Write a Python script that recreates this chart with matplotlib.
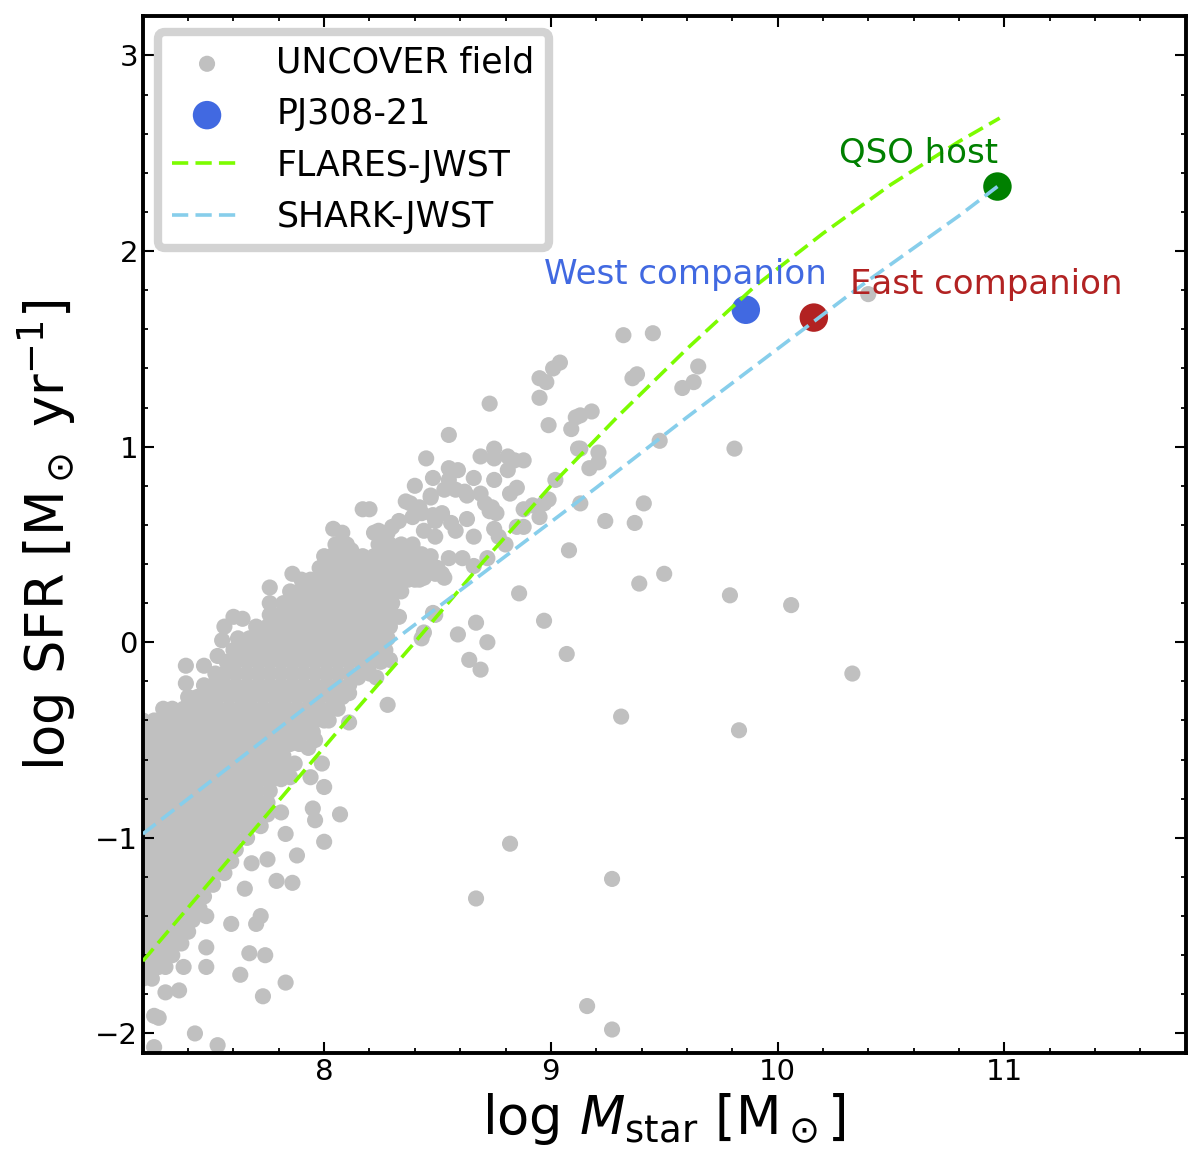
import numpy as np
import matplotlib.pyplot as plt
from matplotlib.ticker import MultipleLocator

# dense part of the UNCOVER cloud, one row of masses per SFR level
core_sfr = [-1.72, -1.66, -1.60, -1.54, -1.48, -1.42, -1.36, -1.30, -1.24, -1.18,
            -1.12, -1.06, -1.00, -0.94, -0.88, -0.82, -0.76, -0.70, -0.64, -0.58,
            -0.52, -0.46, -0.40, -0.34, -0.28, -0.22, -0.16, -0.10, -0.04, 0.02,
            0.08, 0.14, 0.20, 0.26, 0.32, 0.38, 0.44, 0.50, 0.56]
core_mass = [
    [7.20, 7.24],
    [7.22, 7.27, 7.30],
    [7.20, 7.25, 7.30, 7.33],
    [7.22, 7.27, 7.32, 7.37],
    [7.20, 7.25, 7.30, 7.35, 7.40],
    [7.22, 7.27, 7.32, 7.37, 7.42],
    [7.20, 7.25, 7.30, 7.35, 7.40, 7.45],
    [7.22, 7.27, 7.32, 7.37, 7.42, 7.47],
    [7.20, 7.25, 7.30, 7.35, 7.40, 7.45, 7.51],
    [7.22, 7.27, 7.32, 7.37, 7.42, 7.47, 7.52, 7.56],
    [7.20, 7.25, 7.30, 7.35, 7.40, 7.45, 7.50, 7.55, 7.59],
    [7.22, 7.27, 7.32, 7.37, 7.42, 7.47, 7.52, 7.57, 7.61],
    [7.20, 7.25, 7.30, 7.35, 7.40, 7.45, 7.50, 7.55, 7.60, 7.66],
    [7.22, 7.27, 7.32, 7.37, 7.42, 7.47, 7.52, 7.57, 7.62, 7.67, 7.72],
    [7.20, 7.25, 7.30, 7.35, 7.40, 7.45, 7.50, 7.55, 7.60, 7.65, 7.70, 7.75],
    [7.22, 7.27, 7.32, 7.37, 7.42, 7.47, 7.52, 7.57, 7.62, 7.67, 7.72, 7.75],
    [7.20, 7.25, 7.30, 7.35, 7.40, 7.45, 7.50, 7.55, 7.60, 7.65, 7.70, 7.76],
    [7.22, 7.27, 7.32, 7.37, 7.42, 7.47, 7.52, 7.57, 7.62, 7.67, 7.72, 7.77, 7.81],
    [7.20, 7.25, 7.30, 7.35, 7.40, 7.45, 7.50, 7.55, 7.60, 7.65, 7.70, 7.75, 7.80, 7.84],
    [7.22, 7.27, 7.32, 7.37, 7.42, 7.47, 7.52, 7.57, 7.62, 7.67, 7.72, 7.77, 7.82],
    [7.20, 7.25, 7.30, 7.35, 7.40, 7.45, 7.50, 7.55, 7.60, 7.65, 7.70, 7.75, 7.80, 7.85, 7.89],
    [7.22, 7.27, 7.32, 7.37, 7.42, 7.47, 7.52, 7.57, 7.62, 7.67, 7.72, 7.77, 7.82, 7.87, 7.92, 7.95],
    [7.20, 7.25, 7.30, 7.35, 7.40, 7.45, 7.50, 7.55, 7.60, 7.65, 7.70, 7.75, 7.80, 7.85, 7.90, 7.95, 8.00, 8.02],
    [7.29, 7.33, 7.38, 7.43, 7.48, 7.53, 7.58, 7.63, 7.68, 7.73, 7.78, 7.83, 7.88, 7.93, 7.98, 8.03, 8.06],
    [7.40, 7.44, 7.48, 7.53, 7.58, 7.63, 7.68, 7.73, 7.78, 7.83, 7.88, 7.93, 7.98, 8.03, 8.08],
    [7.47, 7.51, 7.56, 7.61, 7.66, 7.71, 7.76, 7.81, 7.86, 7.91, 7.96, 8.01, 8.06, 8.11],
    [7.52, 7.56, 7.61, 7.66, 7.71, 7.76, 7.81, 7.86, 7.91, 7.96, 8.01, 8.06, 8.11, 8.16, 8.20],
    [7.57, 7.61, 7.66, 7.71, 7.76, 7.81, 7.86, 7.91, 7.96, 8.01, 8.06, 8.11, 8.16, 8.21, 8.25],
    [7.60, 7.65, 7.69, 7.73, 7.78, 7.83, 7.88, 7.93, 7.98, 8.03, 8.08, 8.13, 8.18, 8.23, 8.27],
    [7.62, 7.68, 7.72, 7.76, 7.80, 7.84, 7.89, 7.94, 7.99, 8.04, 8.09, 8.14, 8.19, 8.24, 8.28],
    [7.70, 7.75, 7.80, 7.85, 7.90, 7.95, 8.00, 8.05, 8.10, 8.15, 8.20, 8.25, 8.29],
    [7.76, 7.80, 7.84, 7.88, 7.93, 7.98, 8.03, 8.08, 8.13, 8.18, 8.23, 8.28],
    [7.82, 7.86, 7.90, 7.95, 8.00, 8.05, 8.10, 8.15, 8.20, 8.25, 8.30],
    [7.85, 7.89, 7.94, 7.99, 8.04, 8.09, 8.14, 8.19, 8.24, 8.29, 8.34],
    [7.90, 7.94, 7.98, 8.02, 8.07, 8.12, 8.17, 8.22, 8.27, 8.32, 8.37, 8.42],
    [7.98, 8.02, 8.06, 8.11, 8.16, 8.21, 8.26, 8.31, 8.36, 8.41, 8.46],
    [8.03, 8.07, 8.12, 8.17, 8.22, 8.27, 8.32, 8.37, 8.42, 8.47],
    [8.05, 8.10, 8.24, 8.29, 8.34, 8.39],
    [8.08, 8.22, 8.28],
]

# the more isolated UNCOVER galaxies (log M, log SFR)
field_pts = [
    (10.40, 1.78), (9.32, 1.57), (9.45, 1.58), (9.38, 1.37), (9.36, 1.35), (9.65, 1.41),
    (9.63, 1.33), (9.58, 1.30), (9.18, 1.18), (9.13, 1.16), (9.21, 0.97), (9.21, 0.92),
    (9.17, 0.89), (9.13, 0.99), (9.48, 1.03), (9.81, 0.99), (9.13, 0.71), (9.41, 0.71),
    (9.24, 0.62), (9.37, 0.61), (9.50, 0.35), (9.39, 0.30), (9.79, 0.24), (10.06, 0.19),
    (10.33, -0.16), (9.31, -0.38), (9.83, -0.45), (8.28, -0.32), (8.82, -1.03), (9.27, -1.21),
    (8.67, -1.31), (9.16, -1.86), (9.27, -1.98),
    (9.04, 1.43), (9.01, 1.40), (8.95, 1.35), (8.98, 1.33), (8.95, 1.25), (8.73, 1.22),
    (8.99, 1.11), (9.11, 1.15), (9.09, 1.09), (8.55, 1.06), (8.45, 0.94), (8.69, 0.95),
    (8.75, 0.99), (8.75, 0.94), (8.81, 0.95), (8.84, 0.93), (8.88, 0.93), (8.81, 0.88),
    (8.55, 0.89), (8.59, 0.88), (8.48, 0.84), (8.55, 0.83), (8.66, 0.84), (8.75, 0.83),
    (8.40, 0.80), (9.12, 0.99), (9.02, 0.83), (8.85, 0.79), (8.82, 0.76), (8.69, 0.76),
    (8.62, 0.77), (8.53, 0.78), (8.47, 0.74), (8.38, 0.71), (8.42, 0.69), (8.71, 0.71),
    (8.73, 0.67), (8.76, 0.66), (8.99, 0.73), (8.97, 0.71), (8.92, 0.70), (8.88, 0.68),
    (8.95, 0.64), (8.63, 0.63), (8.48, 0.65), (8.56, 0.61), (8.58, 0.57), (8.66, 0.54),
    (8.75, 0.58), (8.77, 0.54), (8.85, 0.59), (8.88, 0.59), (8.80, 0.50), (8.72, 0.43),
    (8.61, 0.43), (8.55, 0.43), (8.66, 0.39), (8.44, 0.42), (8.42, 0.40), (8.50, 0.38),
    (8.53, 0.33), (8.44, 0.33), (8.40, 0.32), (8.34, 0.36), (9.08, 0.47), (8.48, 0.15),
    (8.44, 0.05), (8.43, 0.02), (8.59, 0.04), (8.67, 0.10), (8.72, 0.00), (8.86, 0.25),
    (8.97, 0.11), (9.07, -0.06), (8.64, -0.09), (8.69, -0.14), (8.29, -0.09),
    (8.49, 0.62), (8.52, 0.66), (8.44, 0.57), (8.49, 0.54), (8.33, 0.62), (8.39, 0.64),
    (8.43, 0.66), (8.24, 0.57), (8.30, 0.59), (8.17, 0.68), (8.20, 0.68), (8.04, 0.58),
    (8.36, 0.72), (8.74, 0.69), (8.63, 0.75), (8.58, 0.78), (8.47, 0.75), (8.49, 0.35),
    (8.52, 0.35), (8.46, 0.42), (8.43, 0.45), (8.49, 0.14), (8.33, 0.13),
    (8.23, -0.18), (8.15, -0.18), (8.11, -0.26), (8.05, -0.30), (8.00, -0.36), (8.11, -0.41),
    (7.95, -0.41), (7.96, -0.50), (7.93, -0.54), (7.99, -0.62), (7.87, -0.62), (7.85, -0.69),
    (7.94, -0.69), (8.00, -0.74), (7.95, -0.85), (7.96, -0.91), (8.07, -0.88), (7.81, -0.87),
    (7.83, -0.98), (8.00, -1.02), (7.88, -1.09), (7.75, -1.11), (7.68, -1.13), (7.79, -1.22),
    (7.86, -1.23), (7.65, -1.26), (7.59, -1.44), (7.70, -1.44), (7.72, -1.40), (7.48, -1.40),
    (7.48, -1.56), (7.67, -1.59), (7.74, -1.60), (7.48, -1.66), (7.63, -1.70), (7.83, -1.74),
    (7.73, -1.81), (7.36, -1.78), (7.30, -1.79), (7.38, -1.66), (7.25, -1.91), (7.27, -1.92),
    (7.43, -2.00), (7.53, -2.06), (7.25, -2.07),
    (7.39, -0.12), (7.39, -0.21), (7.47, -0.12), (7.53, -0.07), (7.56, 0.08), (7.55, 0.01),
    (7.67, 0.02), (7.60, 0.13), (7.64, 0.12), (7.76, 0.20), (7.76, 0.28), (7.86, 0.35),
    (8.00, 0.44), (8.12, 0.47),
]

# PJ308-21 components
west_m, west_sfr = 9.86, 1.70
east_m, east_sfr = 10.16, 1.66
qso_m, qso_sfr = 10.97, 2.33

# simulation relations
flares_m = [7.20, 7.50, 7.80, 8.10, 8.40, 8.70, 9.00, 9.30, 9.60, 9.90, 10.20, 10.50, 10.80, 10.98]
flares_sfr = [-1.63, -1.22, -0.81, -0.40, 0.00, 0.41, 0.80, 1.16, 1.50, 1.82, 2.09, 2.34, 2.56, 2.68]
shark_m = [7.20, 7.60, 8.00, 8.40, 8.80, 9.20, 9.60, 10.00, 10.40, 10.80, 10.97]
shark_sfr = [-0.98, -0.62, -0.26, 0.09, 0.44, 0.79, 1.15, 1.50, 1.85, 2.18, 2.33]

xs = [m for row in core_mass for m in row] + [p[0] for p in field_pts]
ys = [s for s, row in zip(core_sfr, core_mass) for m in row] + [p[1] for p in field_pts]

fig = plt.figure(figsize=(12, 11.7), dpi=100)
ax = fig.add_axes([0.119, 0.100, 0.869, 0.886])

field = ax.scatter(xs, ys, s=135, c='silver', edgecolors='none', zorder=1, label='UNCOVER field')
west = ax.scatter(west_m, west_sfr, s=420, c='royalblue', edgecolors='none', zorder=2, label='PJ308-21')
ax.scatter(east_m, east_sfr, s=420, c='firebrick', edgecolors='none', zorder=2)
ax.scatter(qso_m, qso_sfr, s=420, c='green', edgecolors='none', zorder=2)

fl, = ax.plot(flares_m, flares_sfr, color='lawngreen', lw=2.6, ls='--', dashes=(4.5, 2.0), zorder=3, label='FLARES-JWST')
sh, = ax.plot(shark_m, shark_sfr, color='skyblue', lw=2.6, ls='--', dashes=(4.5, 2.0), zorder=3, label='SHARK-JWST')

ax.text(8.97, 1.83, 'West companion', color='royalblue', fontsize=24.5)
ax.text(10.32, 1.78, 'East companion', color='firebrick', fontsize=24.5)
ax.text(10.27, 2.45, 'QSO host', color='green', fontsize=24.5)

leg = ax.legend(handles=[field, west, fl, sh], loc='upper left', fontsize=25,
                fancybox=True, framealpha=1, edgecolor='lightgray',
                borderaxespad=0.45, handletextpad=1.0, labelspacing=0.5)
leg.get_frame().set_linewidth(6)

ax.set_xlim(7.2, 11.8)
ax.set_ylim(-2.1, 3.2)
ax.xaxis.set_major_locator(MultipleLocator(1))
ax.yaxis.set_major_locator(MultipleLocator(1))
ax.xaxis.set_minor_locator(MultipleLocator(0.2))
ax.yaxis.set_minor_locator(MultipleLocator(0.2))
ax.tick_params(which='both', direction='in', top=True, right=True, labelsize=21)
ax.tick_params(which='major', length=8, width=1.5)
ax.tick_params(which='minor', length=3.8, width=1.3)
for sp in ax.spines.values():
    sp.set_linewidth(2.8)

ax.set_xlabel(r'log $M_{\rm star}$ [M$_\odot$]', fontsize=38)
ax.set_ylabel(r'log SFR [M$_\odot$ yr$^{-1}$]', fontsize=38, labelpad=12)

fig.savefig('out.png', dpi=100)
